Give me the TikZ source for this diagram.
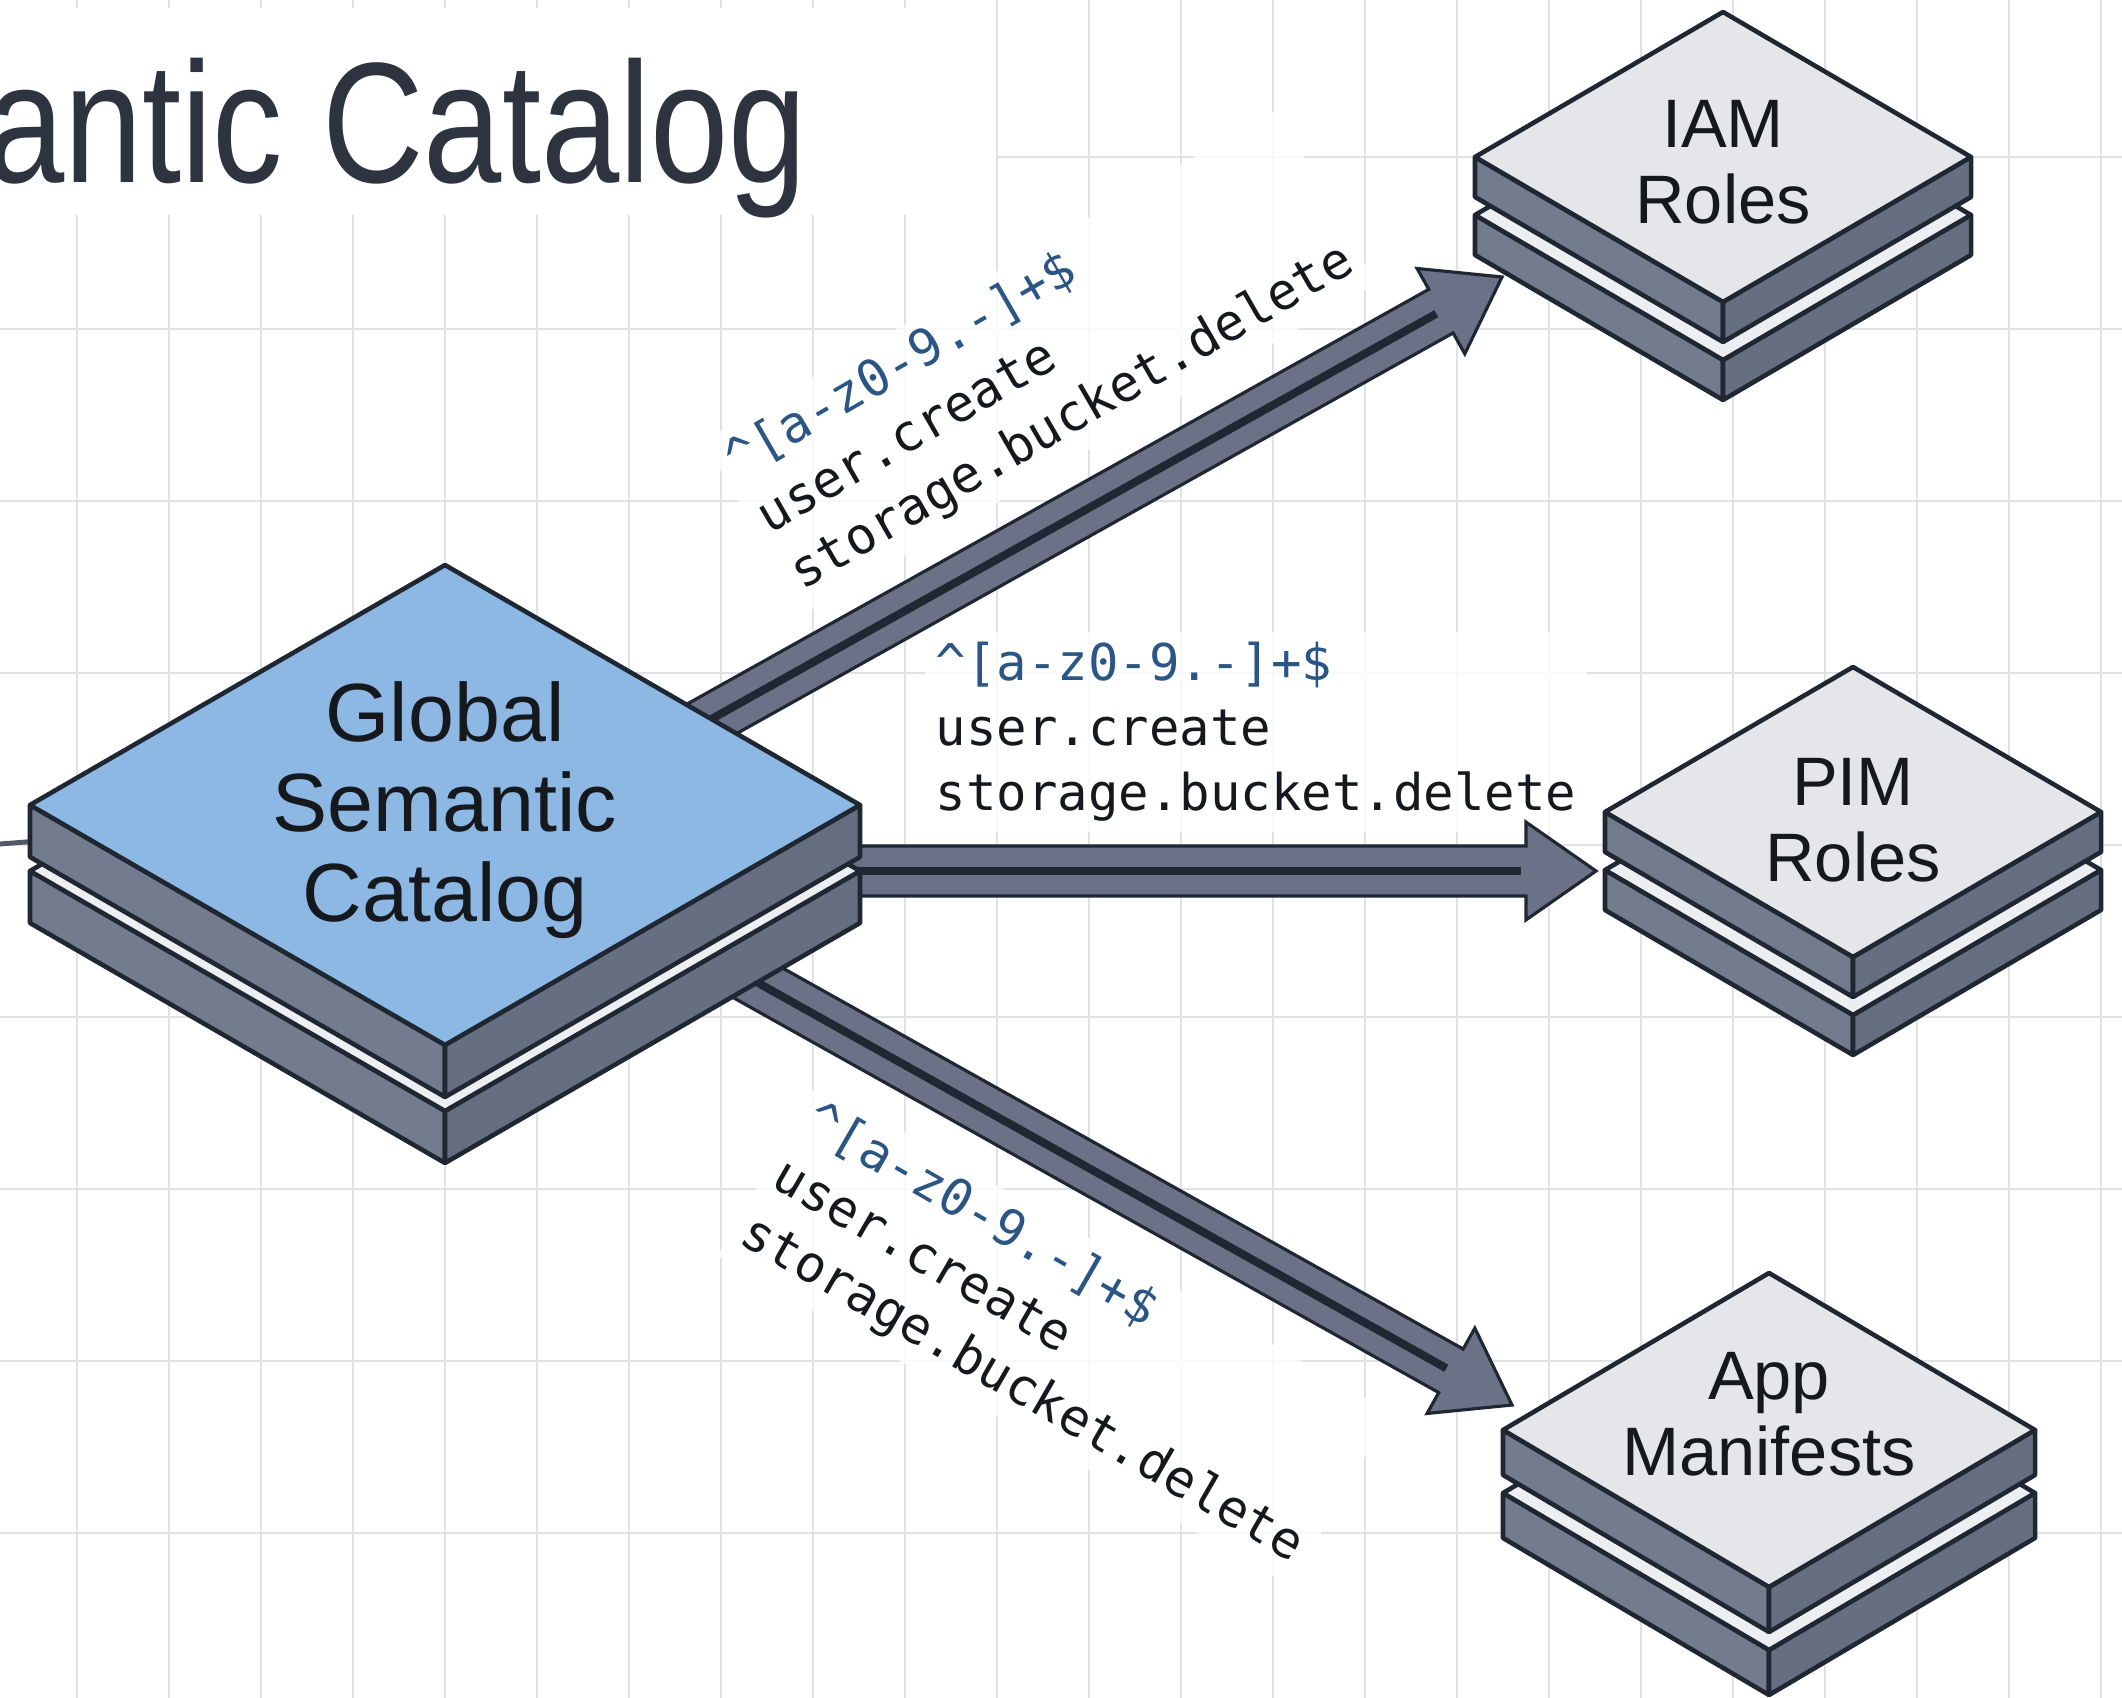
\documentclass[tikz,border=0pt]{standalone}
\usepackage{fontspec}
\setmainfont{Liberation Sans}
\newfontfamily\codefont{DejaVu Sans Mono}
\usetikzlibrary{calc}
\pgfdeclarelayer{back}
\pgfsetlayers{back,main}

\definecolor{ink}{HTML}{1F2733}
\definecolor{gridgray}{HTML}{E0E1E3}
\definecolor{sideleft}{HTML}{737B8F}
\definecolor{sideright}{HTML}{666E82}
\definecolor{hubtop}{HTML}{8DB8E4}
\definecolor{nodetop}{HTML}{E5E6E9}
\definecolor{striptop}{HTML}{ECEEF2}
\definecolor{shaft}{HTML}{6B7287}
\definecolor{regexblue}{HTML}{2B5584}
\definecolor{titleink}{HTML}{2D3440}
\definecolor{labelink}{HTML}{15181D}
\definecolor{feedgray}{HTML}{505767}

\tikzset{
  slabedge/.style={draw=ink, line width=1.3pt, line join=round},
  slableft/.style={slabedge, fill=sideleft},
  slabright/.style={slabedge, fill=sideright},
  gridline/.style={draw=gridgray, line width=0.5pt},
  hubtext/.style={font=\fontsize{23.5}{25.6}\selectfont, align=center, text=labelink, inner sep=0pt},
  roletext/.style={font=\fontsize{19.5}{21.6}\selectfont, align=center, text=labelink, inner sep=0pt},
  titletext/.style={font=\fontsize{40}{48}\selectfont, text=titleink, inner sep=0pt},
  codelabel/.style={font=\codefont\fontsize{14.4}{18.5}\selectfont, align=left, text=labelink,
    fill=white, fill opacity=0.8, text opacity=1, inner sep=3pt},
  arrowbody/.style={fill=shaft, draw=ink, line width=0.9pt, line join=miter},
  arrowcore/.style={draw=ink, line width=2.3pt},
  feedline/.style={draw=feedgray, line width=1.4pt},
}

% one isometric slab: top face centred at (#1,#2), half-width #3, half-height #4, thickness #5, top fill #6
\newcommand\isoslab[6]{%
  \filldraw[slableft] ({#1-#3},{#2}) -- ({#1},{#2+#4}) -- ({#1},{#2+#4+#5}) -- ({#1-#3},{#2+#5}) -- cycle;
  \filldraw[slabright] ({#1},{#2+#4}) -- ({#1+#3},{#2}) -- ({#1+#3},{#2+#5}) -- ({#1},{#2+#4+#5}) -- cycle;
  \filldraw[slabedge, fill=#6] ({#1},{#2-#4}) -- ({#1+#3},{#2}) -- ({#1},{#2+#4}) -- ({#1-#3},{#2}) -- cycle;
}
% two stacked slabs, the lower one shifted down by #6
\newcommand\isostack[7]{%
  \isoslab{#1}{#2+#6}{#3}{#4}{#5}{striptop}%
  \isoslab{#1}{#2}{#3}{#4}{#5}{#7}%
}
% block arrow with a dark core line, from coordinate #1 to tip #2
\newcommand\blockarrow[3]{%
  \coordinate (#3-base) at ($(#2)!19.9pt!(#1)$);
  \filldraw[arrowbody]
    ($(#1)!7.1pt!90:(#2)$) -- ($(#3-base)!7.1pt!-90:(#1)$) -- ($(#3-base)!13.9pt!-90:(#1)$)
    -- (#2) -- ($(#3-base)!13.9pt!90:(#1)$) -- ($(#3-base)!7.1pt!90:(#1)$)
    -- ($(#1)!7.1pt!-90:(#2)$) -- cycle;
  \draw[arrowcore] (#1) -- ($(#3-base)!1.5pt!(#1)$);
}

\begin{document}
\begin{tikzpicture}[x=0.01cm, y=-0.01cm]
\useasboundingbox (0,0) rectangle (2122,1698);
\clip (0,0) rectangle (2122,1698);

% catalog hub and role stores
\isostack{445}{805}{415}{240}{52}{66}{hubtop}
\node[hubtext] (hub) at (445,810) {Global\\Semantic\\Catalog};

\isostack{1723}{157}{248}{145}{40}{58}{nodetop}
\node[roletext] (iam) at (1723,162) {IAM\\Roles};

\isostack{1853}{812}{248}{145}{40}{58}{nodetop}
\node[roletext] (pim) at (1853,820) {PIM\\Roles};

\isostack{1769}{1430}{266}{157}{45}{63}{nodetop}
\node[roletext] (app) at (1769,1414) {App\\Manifests};

\begin{pgfonlayer}{back}
  % paper and grid
  \fill[white] (0,0) rectangle (2122,1698);
  \foreach \gx in {77,169,...,2110} \draw[gridline] (\gx,0) -- (\gx,1698);
  \foreach \gy in {157,329,...,1698} \draw[gridline] (0,\gy) -- (2122,\gy);

  % heading
  \fill[white] (0,8) rectangle (996,215);
  \node[titletext, anchor=base east] (title) at (808,183) {\scalebox{1}[1.22]{antic Catalog}};

  % incoming feed from the left
  \coordinate (feed) at (0,844);
  \draw[feedline] (feed) -- (hub);

  % rule labels
  \node[codelabel, rotate=30] (lbl-iam) at (1040,362)
    {{\color{regexblue}\textasciicircum[a-z0-9.-]+\$}\\user.create\\storage.bucket.delete};
  \node[codelabel] (lbl-pim) at (1256,732)
    {{\color{regexblue}\textasciicircum[a-z0-9.-]+\$}\\user.create\\storage.bucket.delete};
  \node[codelabel, rotate=-30] (lbl-app) at (1054,1334)
    {{\color{regexblue}\textasciicircum[a-z0-9.-]+\$}\\user.create\\storage.bucket.delete};

  % connectors
  \coordinate (hub-out-iam) at ($(hub)+(195,-51)$);
  \coordinate (hub-out-pim) at ($(hub)+(195,61)$);
  \coordinate (hub-out-app) at ($(hub)+(165,90)$);
  \coordinate (iam-in) at ($(iam)+(-221,115)$);
  \coordinate (pim-in) at ($(pim)+(-257,51)$);
  \coordinate (app-in) at ($(app)+(-257,-9)$);
  \blockarrow{hub-out-iam}{iam-in}{toiam}
  \blockarrow{hub-out-pim}{pim-in}{topim}
  \blockarrow{hub-out-app}{app-in}{toapp}
\end{pgfonlayer}
\end{tikzpicture}
\end{document}
